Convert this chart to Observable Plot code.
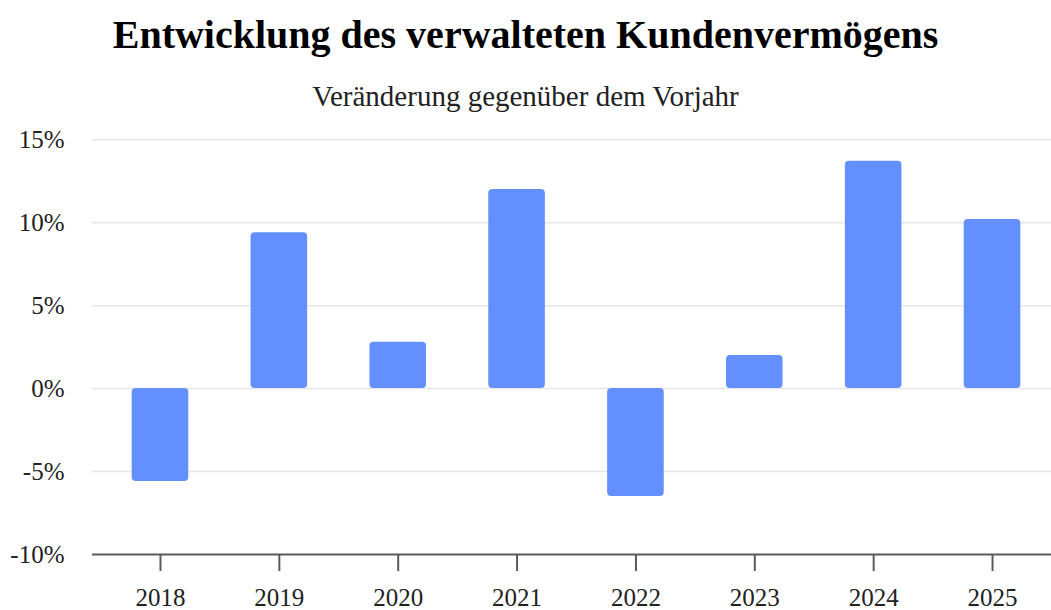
<!DOCTYPE html>
<html>
<head>
<meta charset="utf-8">
<script src="https://cdn.jsdelivr.net/npm/d3@7"></script>
<script src="https://cdn.jsdelivr.net/npm/@observablehq/plot@0.6"></script>
<style>
  html, body { margin: 0; padding: 0; background: #fff; overflow: hidden; }
  #wrap { width: 1051px; font-family: "Liberation Serif", "Times New Roman", serif; }
  #title { height: 70px; line-height: 70px; text-align: center; font-size: 40px; font-weight: bold; color: #000; }
  #subtitle { height: 50px; line-height: 52px; text-align: center; font-size: 29px; color: #222; }
  svg { display: block; }
</style>
</head>
<body>
<div id="wrap">
  <div id="title">Entwicklung des verwalteten Kundenvermögens</div>
  <div id="subtitle">Veränderung gegenüber dem Vorjahr</div>
  <div id="chart"></div>
</div>
<script>
const years = ["2018", "2019", "2020", "2021", "2022", "2023", "2024", "2025"];
const changes = [-5.6, 9.4, 2.8, 12.0, -6.5, 2.0, 13.7, 10.2];
const yTicks = [-10, -5, 0, 5, 10, 15];

const data = years.map((y, i) => ({year: y, value: changes[i]}));

const chart = Plot.plot({
  width: 1051,
  height: 490,
  marginLeft: 92,
  marginRight: 0,
  marginTop: 19.3,
  marginBottom: 56,
  style: {fontFamily: '"Liberation Serif", "Times New Roman", serif', fontSize: "25px", color: "#222", background: "#fff"},
  x: {domain: years, paddingInner: 0.524, paddingOuter: 0.296, align: 0.564, round: false, label: null},
  y: {domain: [-10, 15], label: null},
  marks: [
    Plot.ruleY(yTicks.filter(d => d > -10), {stroke: "#e6e6e6", strokeWidth: 1.5}),
    Plot.barY(data, {x: "year", y: "value", fill: "#648FFF", rx: 4}),
    Plot.ruleY([-10], {stroke: "#5a5a5a", strokeWidth: 2}),
    Plot.axisY({ticks: yTicks, tickFormat: d => d + "%", tickSize: 0, tickPadding: 28, fontSize: 25, fill: "#222"}),
    Plot.axisX({tickSize: 17, tickPadding: 17, stroke: "#5a5a5a", strokeWidth: 2, fontSize: 25, fill: "#222"})
  ]
});
document.getElementById("chart").appendChild(chart);
</script>
</body>
</html>
